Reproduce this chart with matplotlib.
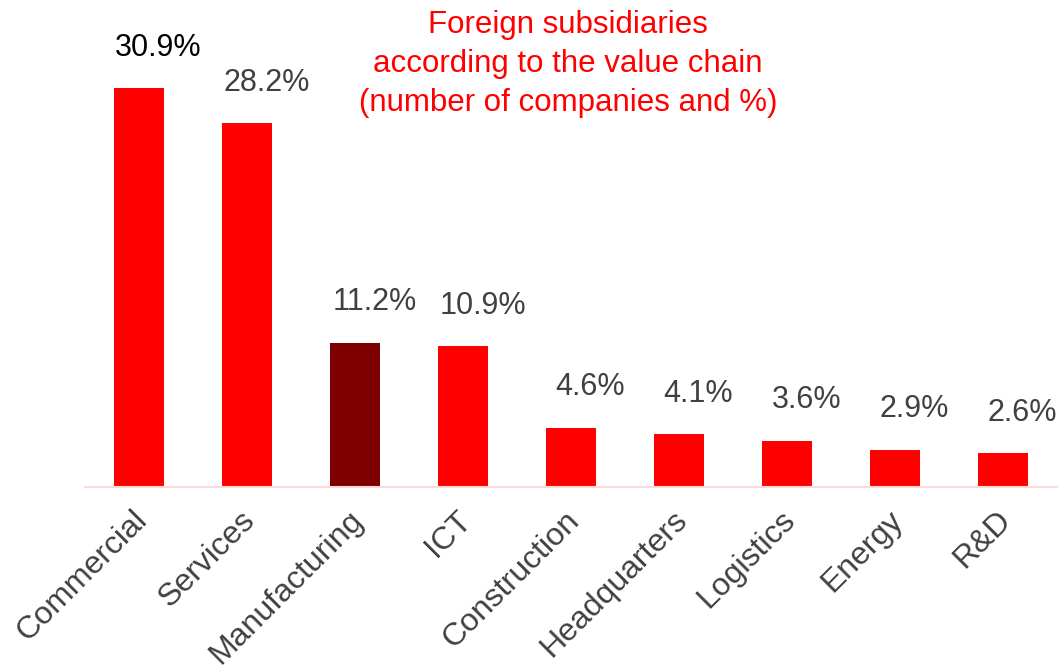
# Foreign subsidiaries by value chain - bar chart
import matplotlib.pyplot as plt
from matplotlib.transforms import ScaledTranslation

plt.rcParams['font.family'] = ['Liberation Sans', 'DejaVu Sans']

categories = ['Commercial', 'Services', 'Manufacturing', 'ICT', 'Construction',
              'Headquarters', 'Logistics', 'Energy', 'R&D']
shares = [30.9, 28.2, 11.2, 10.9, 4.6, 4.1, 3.6, 2.9, 2.6]
highlight = 'Manufacturing'

colors = ['#7F0000' if c == highlight else '#FF0000' for c in categories]

fig = plt.figure(figsize=(10.61, 6.69), dpi=100)
ax = fig.add_axes([85 / 1061, (669 - 487) / 669, 972 / 1061, 451.5 / 669])

x = range(len(categories))
ax.bar(x, shares, width=0.46, color=colors)

for i, v in enumerate(shares):
    ax.annotate(f'{v:.1f}%', (i, v), xytext=(14, 29), textcoords='offset points',
                ha='center', va='center', fontsize=22,
                color='black' if i == 0 else '#404040')

ax.set_xlim(-0.5, 8.5)
ax.set_ylim(0, 35)
ax.set_xticks(list(x))
ax.set_xticklabels(categories, rotation=45, ha='right', rotation_mode='anchor',
                   fontsize=23, color='#404040')
ax.tick_params(axis='x', length=0, pad=12)
shift = ScaledTranslation(-5 / 72, -1 / 72, fig.dpi_scale_trans)
for lbl in ax.get_xticklabels():
    lbl.set_transform(lbl.get_transform() + shift)
ax.set_yticks([])
for s in ['top', 'right', 'left']:
    ax.spines[s].set_visible(False)
ax.spines['bottom'].set_color('#FFD9D9')
ax.spines['bottom'].set_linewidth(1.5)

fig.text(568 / 1061, 1 - 64 / 669,
         'Foreign subsidiaries\naccording to the value chain\n(number of companies and %)',
         ha='center', va='center', fontsize=22.5, color='#FF0000', linespacing=1.38)

fig.savefig('out.png', dpi=100)
